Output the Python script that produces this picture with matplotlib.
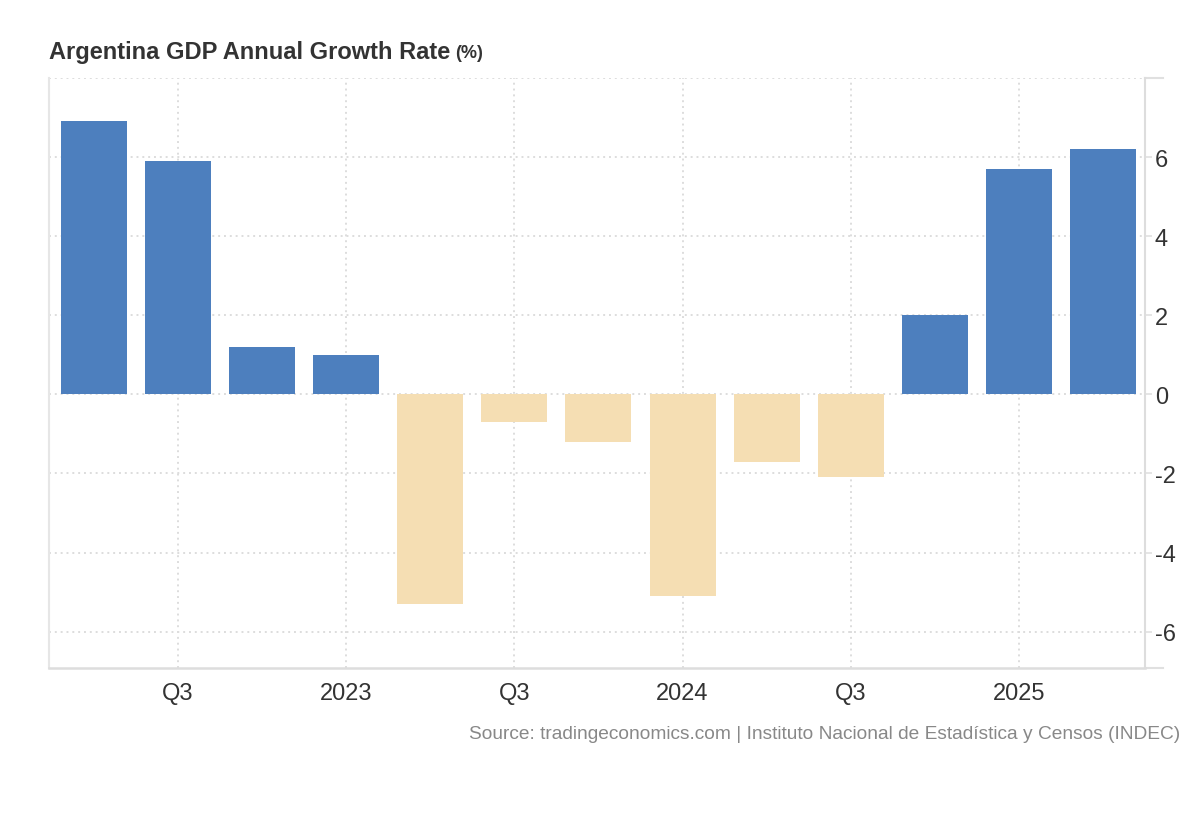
import matplotlib
matplotlib.use("Agg")
import matplotlib.pyplot as plt
from matplotlib.lines import Line2D

quarters = ["Q2 2022", "Q3 2022", "Q4 2022", "Q1 2023", "Q2 2023", "Q3 2023", "Q4 2023",
            "Q1 2024", "Q2 2024", "Q3 2024", "Q4 2024", "Q1 2025", "Q2 2025"]
growth = [6.9, 5.9, 1.2, 1.0, -5.3, -0.7, -1.2, -5.1, -1.7, -2.1, 2.0, 5.7, 6.2]
tick_idx = [1, 3, 5, 7, 9, 11]
tick_labels = ["Q3", "2023", "Q3", "2024", "Q3", "2025"]
y_ticks = [-6, -4, -2, 0, 2, 4, 6, 8]
y_labels = ["-6", "-4", "-2", "0", "2", "4", "6", ""]

plt.rcParams['font.family'] = ['Liberation Sans', 'DejaVu Sans']
plt.rcParams['axes.unicode_minus'] = False

fig = plt.figure(figsize=(12, 8.2), dpi=100)
ax = fig.add_axes([49 / 1200, 1 - 669 / 820, (1145 - 49) / 1200, (669 - 79) / 820])

blue = "#4d7fbe"
beige = "#f5deb3"
colors = [blue if v >= 0 else beige for v in growth]
ax.bar(range(len(growth)), growth, width=0.785, color=colors, zorder=3)

ax.set_xlim(-0.535, 12.5)
ax.set_ylim(-6.92, 8.0)

ax.set_xticks(tick_idx)
ax.set_xticklabels(tick_labels, fontsize=17, color="#333333")
ax.tick_params(axis="x", length=0, pad=10)

ax.yaxis.tick_right()
ax.set_yticks(y_ticks)
ax.set_yticklabels(y_labels, fontsize=17, color="#333333")
ax.tick_params(axis="y", length=5, width=1.2, color="#e0e0e0", pad=2)

ax.grid(True, color="#dddddd", linestyle=(0, (1, 2)), linewidth=1.4, zorder=0)

ax.spines["top"].set_visible(False)
ax.spines["left"].set_color("#e6e6e6")
ax.spines["left"].set_linewidth(1.5)
ax.spines["right"].set_color("#dddddd")
ax.spines["right"].set_linewidth(1.5)
ax.spines["bottom"].set_color("#dddddd")
ax.spines["bottom"].set_linewidth(1.8)

# lines past the right axis at top and bottom
for yy in [0, 1]:
    ax.add_line(Line2D([1, 1.0165], [yy, yy], transform=ax.transAxes,
                       color="#e0e0e0", linewidth=1.5, clip_on=False))

title = fig.text(49 / 1200, 1 - 53 / 820, "Argentina GDP Annual Growth Rate", fontsize=17,
                 fontweight="bold", color="#333333", va="center", ha="left")
fig.canvas.draw()
bb = title.get_window_extent()
fig.text((bb.x1 + 5) / 1200, 1 - 54 / 820, "(%)", fontsize=13,
         fontweight="bold", color="#333333", va="center", ha="left")

fig.text(1180 / 1200, 1 - 735 / 820,
         "Source: tradingeconomics.com | Instituto Nacional de Estadística y Censos (INDEC)",
         fontsize=13.8, color="#888888", ha="right", va="center")

fig.savefig("out.png", dpi=100, facecolor="white")
